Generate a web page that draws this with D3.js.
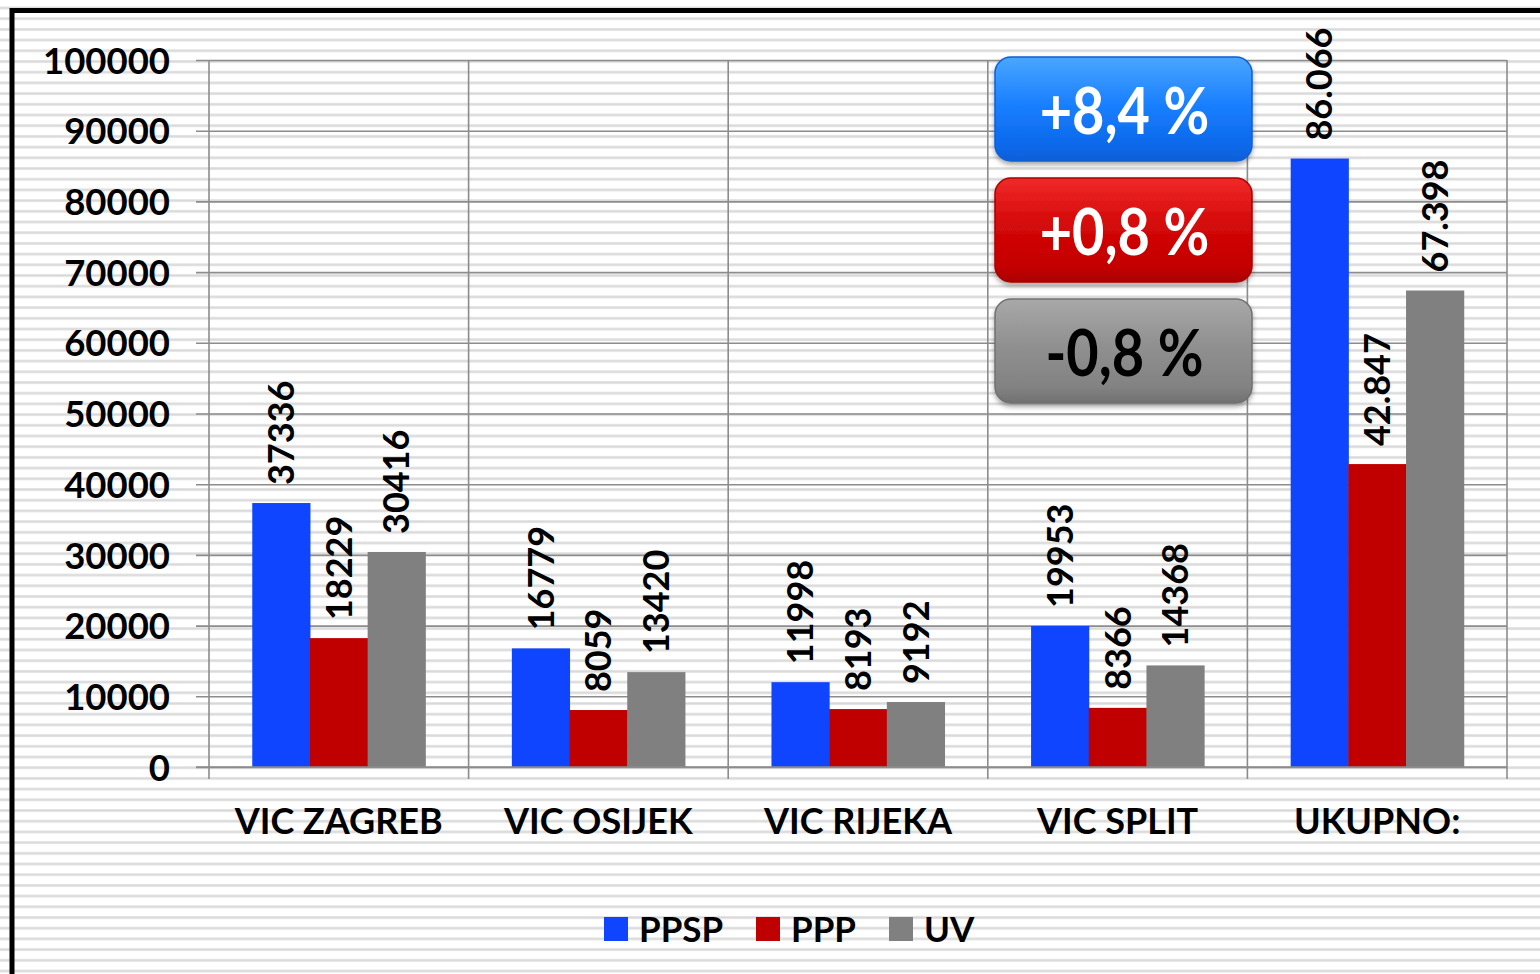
<!DOCTYPE html>
<html>
<head>
<meta charset="utf-8">
<script src="https://cdn.jsdelivr.net/npm/d3@7"></script>
<style>
  html, body { margin: 0; padding: 0; background: #fff; }
  svg { display: block; }
  text { font-family: Lato, "Open Sans", sans-serif; font-weight: 700; fill: #000; }
</style>
</head>
<body>
<div id="chart"></div>
<script>
// Data
const categories = ["VIC ZAGREB", "VIC OSIJEK", "VIC RIJEKA", "VIC SPLIT", "UKUPNO:"];
const seriesNames = ["PPSP", "PPP", "UV"];
const ppsp = [37336, 16779, 11998, 19953, 86066];
const ppp = [18229, 8059, 8193, 8366, 42847];
const uv = [30416, 13420, 9192, 14368, 67398];
const ppspLabels = ["37336", "16779", "11998", "19953", "86.066"];
const pppLabels = ["18229", "8059", "8193", "8366", "42.847"];
const uvLabels = ["30416", "13420", "9192", "14368", "67.398"];
const yTicks = [0, 10000, 20000, 30000, 40000, 50000, 60000, 70000, 80000, 90000, 100000];
const changeLabels = ["+8,4 %", "+0,8 %", "-0,8 %"];

const colors = ["#0f45ff", "#c00000", "#808080"];

const width = 1540, height = 974;
const plot = { left: 209, right: 1507, top: 60, bottom: 767 };

const svg = d3.select("#chart").append("svg")
  .attr("width", width)
  .attr("height", height);

const defs = svg.append("defs");

// striped background
const pat = defs.append("pattern")
  .attr("id", "stripes")
  .attr("patternUnits", "userSpaceOnUse")
  .attr("width", 20).attr("height", 10.7)
  .attr("y", 6.5);
pat.append("rect").attr("width", 20).attr("height", 10.7).attr("fill", "#fff");
pat.append("rect").attr("y", 0).attr("width", 20).attr("height", 3).attr("fill", "#e6e6e6");
pat.append("rect").attr("y", 0.8).attr("width", 20).attr("height", 1.4).attr("fill", "#d9d9d9");

svg.append("rect").attr("width", width).attr("height", height).attr("fill", "url(#stripes)");

// frame (only top and left visible)
svg.append("path")
  .attr("d", `M12,${height} L12,10.5 L${width},10.5`)
  .attr("fill", "none")
  .attr("stroke", "#000")
  .attr("stroke-width", 5);

// Scales
const x0 = d3.scaleBand().domain(categories).range([plot.left, plot.right]).padding(0);
const x1 = d3.scaleBand().domain(seriesNames).range([0, x0.bandwidth()]).paddingInner(0).paddingOuter(0.75);
const y = d3.scaleLinear().domain([0, 100000]).range([plot.bottom, plot.top]);

// Gridlines + y axis
const yAxis = d3.axisLeft(y).tickValues(yTicks).tickSize(plot.right - plot.left + 13).tickPadding(26).tickFormat(d3.format("d"));
const gy = svg.append("g")
  .attr("transform", `translate(${plot.right},0)`)
  .call(yAxis);
gy.select(".domain").remove();
gy.selectAll(".tick line").attr("stroke", "#8c8c8c").attr("stroke-width", 1.6);
gy.selectAll(".tick text")
  .attr("font-size", 36.5)
  .attr("dy", "0.36em");

// vertical category boundaries with ticks below axis
const bounds = categories.map(c => x0(c)).concat([plot.right]);
svg.append("g").selectAll("line")
  .data(bounds)
  .join("line")
  .attr("x1", d => d).attr("x2", d => d)
  .attr("y1", plot.top).attr("y2", plot.bottom + 12)
  .attr("stroke", "#8c8c8c").attr("stroke-width", 1.6);

// Bars
const series = [ppsp, ppp, uv];
const seriesLabels = [ppspLabels, pppLabels, uvLabels];
const barData = [];
categories.forEach((c, i) => {
  seriesNames.forEach((s, j) => {
    barData.push({ cat: c, name: s, value: series[j][i], label: seriesLabels[j][i], color: colors[j] });
  });
});

svg.append("g").selectAll("rect")
  .data(barData)
  .join("rect")
  .attr("x", d => x0(d.cat) + x1(d.name))
  .attr("y", d => y(d.value))
  .attr("width", x1.bandwidth() + 0.5)
  .attr("height", d => y(0) - y(d.value))
  .attr("fill", d => d.color);

// redraw x baseline above bars
svg.append("line")
  .attr("x1", plot.left - 13).attr("x2", plot.right)
  .attr("y1", y(0)).attr("y2", y(0))
  .attr("stroke", "#8c8c8c").attr("stroke-width", 1.6);

// Value labels (rotated)
svg.append("g").selectAll("text")
  .data(barData)
  .join("text")
  .attr("transform", d => `translate(${x0(d.cat) + x1(d.name) + x1.bandwidth() / 2},${y(d.value) - 18}) rotate(-90)`)
  .attr("dy", "0.36em")
  .attr("font-size", 36)
  .text(d => d.label);

// Category labels
svg.append("g").selectAll("text")
  .data(categories)
  .join("text")
  .attr("x", d => x0(d) + x0.bandwidth() / 2)
  .attr("y", 834)
  .attr("text-anchor", "middle")
  .attr("font-size", 36)
  .text(d => d);

// Change boxes
const boxFills = [
  ["#4aa6ff", "#1a80ff", "#0a68ea", "#0b5fd6"],
  ["#f02a2a", "#d40808", "#c40000", "#aa0000"],
  ["#a8a8a8", "#909090", "#828282", "#707070"]
];
const textFills = ["#fff", "#fff", "#000"];

const shadow = defs.append("filter").attr("id", "shadow")
  .attr("x", "-10%").attr("y", "-10%").attr("width", "120%").attr("height", "130%");
shadow.append("feDropShadow").attr("dx", 0).attr("dy", 3).attr("stdDeviation", 2.5)
  .attr("flood-color", "#000").attr("flood-opacity", 0.35);

boxFills.forEach((f, i) => {
  const g = defs.append("linearGradient").attr("id", "boxg" + i)
    .attr("x1", 0).attr("y1", 0).attr("x2", 0).attr("y2", 1);
  g.append("stop").attr("offset", "0%").attr("stop-color", f[0]);
  g.append("stop").attr("offset", "45%").attr("stop-color", f[1]);
  g.append("stop").attr("offset", "85%").attr("stop-color", f[2]);
  g.append("stop").attr("offset", "100%").attr("stop-color", f[3]);
});

const box = { x: 995, w: 257, h: 104, top: 57, step: 121 };
const boxes = svg.append("g").selectAll("g")
  .data(changeLabels)
  .join("g")
  .attr("transform", (d, i) => `translate(${box.x},${box.top + i * box.step})`);

boxes.append("rect")
  .attr("width", box.w).attr("height", box.h)
  .attr("rx", 16).attr("ry", 16)
  .attr("fill", (d, i) => `url(#boxg${i})`)
  .attr("stroke", (d, i) => boxFills[i][3])
  .attr("stroke-width", 1.5)
  .attr("filter", "url(#shadow)");

// condensed look: squeeze the text horizontally
boxes.append("text")
  .attr("transform", `translate(${box.w / 2 + 1},${box.h / 2 + 2}) scale(0.86,1)`)
  .attr("dy", "0.36em")
  .attr("text-anchor", "middle")
  .attr("font-size", 65)
  .style("fill", (d, i) => textFills[i])
  .text(d => d);

// Legend
const legendX = [604, 756, 889];
const legend = svg.append("g").selectAll("g")
  .data(seriesNames)
  .join("g")
  .attr("transform", (d, i) => `translate(${legendX[i]},917)`);
legend.append("rect").attr("width", 24).attr("height", 24).attr("fill", (d, i) => colors[i]);
legend.append("text")
  .attr("x", 35).attr("y", 12).attr("dy", "0.36em")
  .attr("font-size", 35)
  .text(d => d);
</script>
</body>
</html>
